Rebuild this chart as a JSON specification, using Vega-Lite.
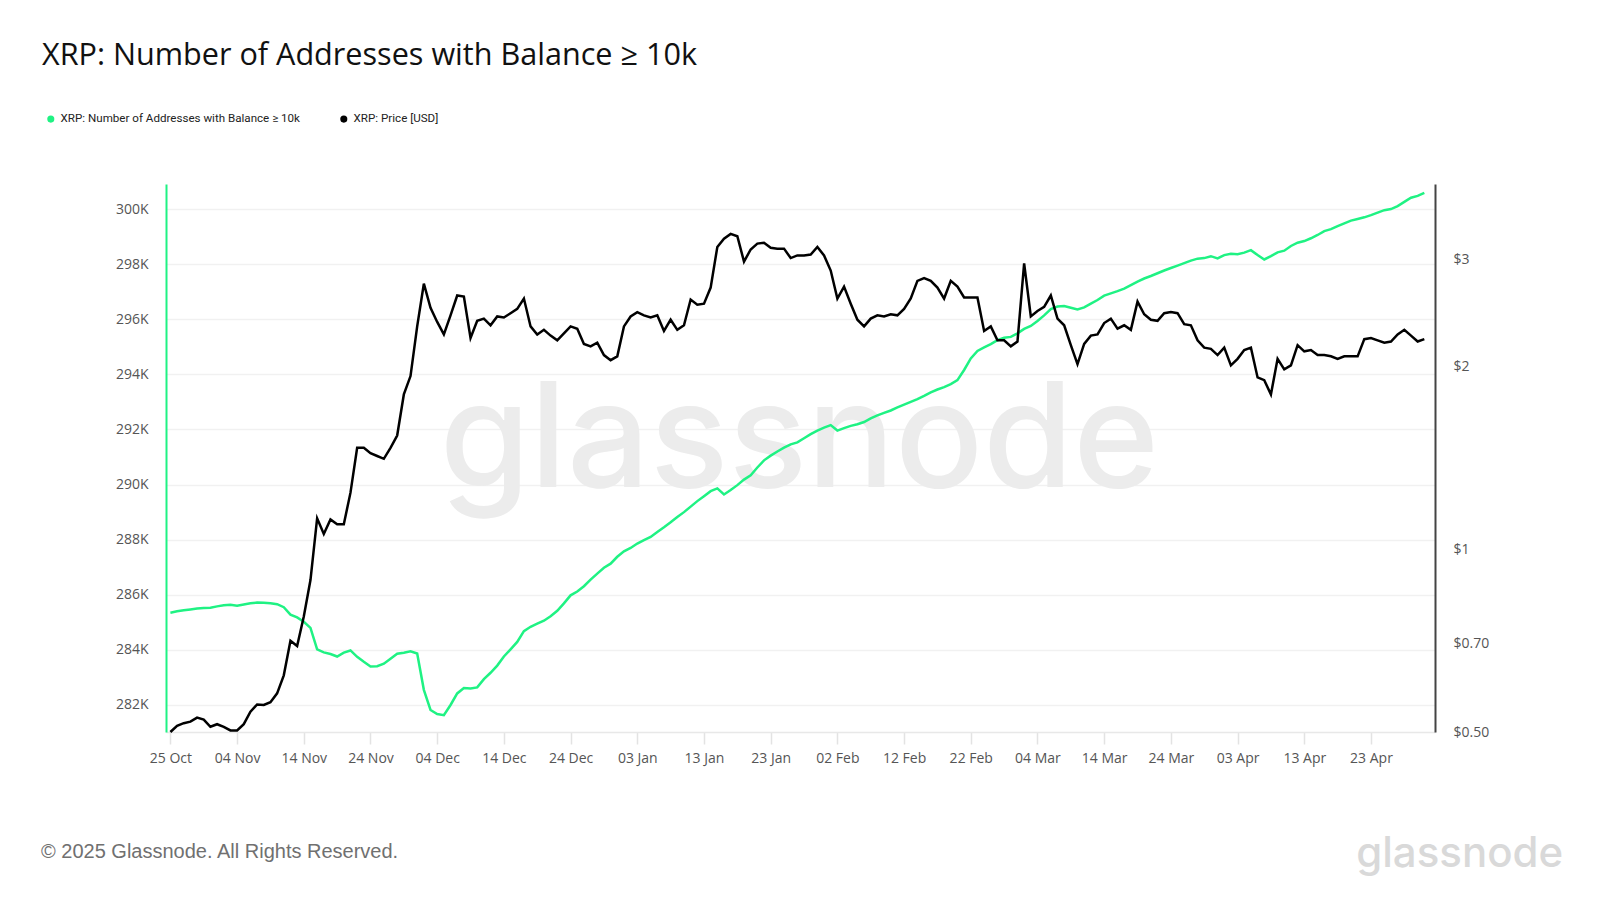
{
  "$schema": "https://vega.github.io/schema/vega-lite/v6.json",
  "width": 1269,
  "height": 548,
  "autosize": {"type": "none"},
  "padding": {"left": 166, "top": 184, "right": 165, "bottom": 168},
  "background": "white",
  "title": {
    "text": "XRP: Number of Addresses with Balance ≥ 10k",
    "anchor": "start",
    "frame": "group",
    "font": "Open Sans",
    "fontSize": 30.6,
    "fontWeight": 400,
    "color": "#111111",
    "baseline": "alphabetic",
    "dx": -124,
    "offset": 17
  },
  "config": {
    "view": {"stroke": null},
    "font": "Open Sans"
  },
  "datasets": {
    "xrp": [
      {"date": "2024-10-25", "addresses": 285350, "price": 0.500},
      {"date": "2024-10-26", "addresses": 285400, "price": 0.512},
      {"date": "2024-10-27", "addresses": 285440, "price": 0.517},
      {"date": "2024-10-28", "addresses": 285470, "price": 0.520},
      {"date": "2024-10-29", "addresses": 285500, "price": 0.528},
      {"date": "2024-10-30", "addresses": 285520, "price": 0.524},
      {"date": "2024-10-31", "addresses": 285530, "price": 0.510},
      {"date": "2024-11-01", "addresses": 285580, "price": 0.515},
      {"date": "2024-11-02", "addresses": 285620, "price": 0.510},
      {"date": "2024-11-03", "addresses": 285640, "price": 0.503},
      {"date": "2024-11-04", "addresses": 285600, "price": 0.503},
      {"date": "2024-11-05", "addresses": 285650, "price": 0.515},
      {"date": "2024-11-06", "addresses": 285690, "price": 0.540},
      {"date": "2024-11-07", "addresses": 285720, "price": 0.555},
      {"date": "2024-11-08", "addresses": 285710, "price": 0.554},
      {"date": "2024-11-09", "addresses": 285690, "price": 0.560},
      {"date": "2024-11-10", "addresses": 285660, "price": 0.579},
      {"date": "2024-11-11", "addresses": 285550, "price": 0.620},
      {"date": "2024-11-12", "addresses": 285280, "price": 0.707},
      {"date": "2024-11-13", "addresses": 285180, "price": 0.693},
      {"date": "2024-11-14", "addresses": 285020, "price": 0.775},
      {"date": "2024-11-15", "addresses": 284800, "price": 0.890},
      {"date": "2024-11-16", "addresses": 284020, "price": 1.125},
      {"date": "2024-11-17", "addresses": 283910, "price": 1.060},
      {"date": "2024-11-18", "addresses": 283850, "price": 1.120},
      {"date": "2024-11-19", "addresses": 283760, "price": 1.100},
      {"date": "2024-11-20", "addresses": 283900, "price": 1.100},
      {"date": "2024-11-21", "addresses": 283980, "price": 1.240},
      {"date": "2024-11-22", "addresses": 283750, "price": 1.470},
      {"date": "2024-11-23", "addresses": 283570, "price": 1.470},
      {"date": "2024-11-24", "addresses": 283400, "price": 1.440},
      {"date": "2024-11-25", "addresses": 283410, "price": 1.425},
      {"date": "2024-11-26", "addresses": 283500, "price": 1.410},
      {"date": "2024-11-27", "addresses": 283680, "price": 1.470},
      {"date": "2024-11-28", "addresses": 283860, "price": 1.540},
      {"date": "2024-11-29", "addresses": 283900, "price": 1.800},
      {"date": "2024-11-30", "addresses": 283950, "price": 1.930},
      {"date": "2024-12-01", "addresses": 283870, "price": 2.330},
      {"date": "2024-12-02", "addresses": 282550, "price": 2.740},
      {"date": "2024-12-03", "addresses": 281820, "price": 2.500},
      {"date": "2024-12-04", "addresses": 281670, "price": 2.370},
      {"date": "2024-12-05", "addresses": 281630, "price": 2.260},
      {"date": "2024-12-06", "addresses": 282000, "price": 2.430},
      {"date": "2024-12-07", "addresses": 282420, "price": 2.620},
      {"date": "2024-12-08", "addresses": 282620, "price": 2.610},
      {"date": "2024-12-09", "addresses": 282600, "price": 2.230},
      {"date": "2024-12-10", "addresses": 282640, "price": 2.380},
      {"date": "2024-12-11", "addresses": 282940, "price": 2.400},
      {"date": "2024-12-12", "addresses": 283170, "price": 2.340},
      {"date": "2024-12-13", "addresses": 283430, "price": 2.420},
      {"date": "2024-12-14", "addresses": 283760, "price": 2.410},
      {"date": "2024-12-15", "addresses": 284020, "price": 2.450},
      {"date": "2024-12-16", "addresses": 284290, "price": 2.490},
      {"date": "2024-12-17", "addresses": 284680, "price": 2.590},
      {"date": "2024-12-18", "addresses": 284840, "price": 2.330},
      {"date": "2024-12-19", "addresses": 284950, "price": 2.260},
      {"date": "2024-12-20", "addresses": 285060, "price": 2.300},
      {"date": "2024-12-21", "addresses": 285220, "price": 2.250},
      {"date": "2024-12-22", "addresses": 285420, "price": 2.210},
      {"date": "2024-12-23", "addresses": 285690, "price": 2.270},
      {"date": "2024-12-24", "addresses": 285980, "price": 2.330},
      {"date": "2024-12-25", "addresses": 286120, "price": 2.310},
      {"date": "2024-12-26", "addresses": 286310, "price": 2.180},
      {"date": "2024-12-27", "addresses": 286550, "price": 2.160},
      {"date": "2024-12-28", "addresses": 286770, "price": 2.190},
      {"date": "2024-12-29", "addresses": 286980, "price": 2.090},
      {"date": "2024-12-30", "addresses": 287130, "price": 2.050},
      {"date": "2024-12-31", "addresses": 287380, "price": 2.080},
      {"date": "2025-01-01", "addresses": 287580, "price": 2.330},
      {"date": "2025-01-02", "addresses": 287700, "price": 2.420},
      {"date": "2025-01-03", "addresses": 287860, "price": 2.460},
      {"date": "2025-01-04", "addresses": 287980, "price": 2.430},
      {"date": "2025-01-05", "addresses": 288100, "price": 2.410},
      {"date": "2025-01-06", "addresses": 288280, "price": 2.430},
      {"date": "2025-01-07", "addresses": 288450, "price": 2.290},
      {"date": "2025-01-08", "addresses": 288630, "price": 2.390},
      {"date": "2025-01-09", "addresses": 288820, "price": 2.300},
      {"date": "2025-01-10", "addresses": 289000, "price": 2.340},
      {"date": "2025-01-11", "addresses": 289200, "price": 2.580},
      {"date": "2025-01-12", "addresses": 289400, "price": 2.530},
      {"date": "2025-01-13", "addresses": 289580, "price": 2.540},
      {"date": "2025-01-14", "addresses": 289760, "price": 2.700},
      {"date": "2025-01-15", "addresses": 289860, "price": 3.150},
      {"date": "2025-01-16", "addresses": 289640, "price": 3.250},
      {"date": "2025-01-17", "addresses": 289800, "price": 3.310},
      {"date": "2025-01-18", "addresses": 289980, "price": 3.280},
      {"date": "2025-01-19", "addresses": 290180, "price": 2.980},
      {"date": "2025-01-20", "addresses": 290340, "price": 3.120},
      {"date": "2025-01-21", "addresses": 290620, "price": 3.190},
      {"date": "2025-01-22", "addresses": 290880, "price": 3.200},
      {"date": "2025-01-23", "addresses": 291050, "price": 3.140},
      {"date": "2025-01-24", "addresses": 291200, "price": 3.130},
      {"date": "2025-01-25", "addresses": 291340, "price": 3.130},
      {"date": "2025-01-26", "addresses": 291460, "price": 3.020},
      {"date": "2025-01-27", "addresses": 291530, "price": 3.050},
      {"date": "2025-01-28", "addresses": 291680, "price": 3.050},
      {"date": "2025-01-29", "addresses": 291830, "price": 3.060},
      {"date": "2025-01-30", "addresses": 291960, "price": 3.150},
      {"date": "2025-01-31", "addresses": 292070, "price": 3.050},
      {"date": "2025-02-01", "addresses": 292160, "price": 2.880},
      {"date": "2025-02-02", "addresses": 291960, "price": 2.590},
      {"date": "2025-02-03", "addresses": 292050, "price": 2.710},
      {"date": "2025-02-04", "addresses": 292130, "price": 2.540},
      {"date": "2025-02-05", "addresses": 292190, "price": 2.390},
      {"date": "2025-02-06", "addresses": 292270, "price": 2.330},
      {"date": "2025-02-07", "addresses": 292400, "price": 2.400},
      {"date": "2025-02-08", "addresses": 292510, "price": 2.430},
      {"date": "2025-02-09", "addresses": 292600, "price": 2.420},
      {"date": "2025-02-10", "addresses": 292690, "price": 2.440},
      {"date": "2025-02-11", "addresses": 292800, "price": 2.430},
      {"date": "2025-02-12", "addresses": 292900, "price": 2.490},
      {"date": "2025-02-13", "addresses": 293000, "price": 2.590},
      {"date": "2025-02-14", "addresses": 293100, "price": 2.770},
      {"date": "2025-02-15", "addresses": 293220, "price": 2.800},
      {"date": "2025-02-16", "addresses": 293350, "price": 2.770},
      {"date": "2025-02-17", "addresses": 293450, "price": 2.700},
      {"date": "2025-02-18", "addresses": 293540, "price": 2.590},
      {"date": "2025-02-19", "addresses": 293650, "price": 2.770},
      {"date": "2025-02-20", "addresses": 293790, "price": 2.710},
      {"date": "2025-02-21", "addresses": 294160, "price": 2.600},
      {"date": "2025-02-22", "addresses": 294580, "price": 2.600},
      {"date": "2025-02-23", "addresses": 294850, "price": 2.600},
      {"date": "2025-02-24", "addresses": 294980, "price": 2.290},
      {"date": "2025-02-25", "addresses": 295100, "price": 2.330},
      {"date": "2025-02-26", "addresses": 295240, "price": 2.210},
      {"date": "2025-02-27", "addresses": 295330, "price": 2.210},
      {"date": "2025-02-28", "addresses": 295360, "price": 2.160},
      {"date": "2025-03-01", "addresses": 295490, "price": 2.200},
      {"date": "2025-03-02", "addresses": 295650, "price": 2.960},
      {"date": "2025-03-03", "addresses": 295760, "price": 2.420},
      {"date": "2025-03-04", "addresses": 295940, "price": 2.470},
      {"date": "2025-03-05", "addresses": 296140, "price": 2.510},
      {"date": "2025-03-06", "addresses": 296370, "price": 2.620},
      {"date": "2025-03-07", "addresses": 296460, "price": 2.400},
      {"date": "2025-03-08", "addresses": 296480, "price": 2.340},
      {"date": "2025-03-09", "addresses": 296420, "price": 2.170},
      {"date": "2025-03-10", "addresses": 296360, "price": 2.020},
      {"date": "2025-03-11", "addresses": 296430, "price": 2.180},
      {"date": "2025-03-12", "addresses": 296570, "price": 2.250},
      {"date": "2025-03-13", "addresses": 296700, "price": 2.260},
      {"date": "2025-03-14", "addresses": 296860, "price": 2.360},
      {"date": "2025-03-15", "addresses": 296940, "price": 2.400},
      {"date": "2025-03-16", "addresses": 297020, "price": 2.310},
      {"date": "2025-03-17", "addresses": 297110, "price": 2.340},
      {"date": "2025-03-18", "addresses": 297240, "price": 2.300},
      {"date": "2025-03-19", "addresses": 297370, "price": 2.560},
      {"date": "2025-03-20", "addresses": 297480, "price": 2.440},
      {"date": "2025-03-21", "addresses": 297570, "price": 2.390},
      {"date": "2025-03-22", "addresses": 297670, "price": 2.380},
      {"date": "2025-03-23", "addresses": 297770, "price": 2.450},
      {"date": "2025-03-24", "addresses": 297860, "price": 2.460},
      {"date": "2025-03-25", "addresses": 297950, "price": 2.450},
      {"date": "2025-03-26", "addresses": 298040, "price": 2.350},
      {"date": "2025-03-27", "addresses": 298130, "price": 2.340},
      {"date": "2025-03-28", "addresses": 298200, "price": 2.210},
      {"date": "2025-03-29", "addresses": 298220, "price": 2.150},
      {"date": "2025-03-30", "addresses": 298290, "price": 2.140},
      {"date": "2025-03-31", "addresses": 298210, "price": 2.090},
      {"date": "2025-04-01", "addresses": 298330, "price": 2.150},
      {"date": "2025-04-02", "addresses": 298380, "price": 2.010},
      {"date": "2025-04-03", "addresses": 298360, "price": 2.060},
      {"date": "2025-04-04", "addresses": 298420, "price": 2.130},
      {"date": "2025-04-05", "addresses": 298510, "price": 2.150},
      {"date": "2025-04-06", "addresses": 298330, "price": 1.920},
      {"date": "2025-04-07", "addresses": 298170, "price": 1.900},
      {"date": "2025-04-08", "addresses": 298290, "price": 1.800},
      {"date": "2025-04-09", "addresses": 298430, "price": 2.060},
      {"date": "2025-04-10", "addresses": 298490, "price": 1.980},
      {"date": "2025-04-11", "addresses": 298660, "price": 2.010},
      {"date": "2025-04-12", "addresses": 298780, "price": 2.170},
      {"date": "2025-04-13", "addresses": 298840, "price": 2.120},
      {"date": "2025-04-14", "addresses": 298940, "price": 2.130},
      {"date": "2025-04-15", "addresses": 299060, "price": 2.090},
      {"date": "2025-04-16", "addresses": 299200, "price": 2.090},
      {"date": "2025-04-17", "addresses": 299270, "price": 2.080},
      {"date": "2025-04-18", "addresses": 299380, "price": 2.060},
      {"date": "2025-04-19", "addresses": 299480, "price": 2.080},
      {"date": "2025-04-20", "addresses": 299580, "price": 2.080},
      {"date": "2025-04-21", "addresses": 299640, "price": 2.080},
      {"date": "2025-04-22", "addresses": 299700, "price": 2.220},
      {"date": "2025-04-23", "addresses": 299780, "price": 2.230},
      {"date": "2025-04-24", "addresses": 299870, "price": 2.210},
      {"date": "2025-04-25", "addresses": 299960, "price": 2.190},
      {"date": "2025-04-26", "addresses": 300000, "price": 2.200},
      {"date": "2025-04-27", "addresses": 300110, "price": 2.260},
      {"date": "2025-04-28", "addresses": 300260, "price": 2.300},
      {"date": "2025-04-29", "addresses": 300410, "price": 2.250},
      {"date": "2025-04-30", "addresses": 300480, "price": 2.200},
      {"date": "2025-05-01", "addresses": 300590, "price": 2.220}
    ]
  },
  "layer": [
    {
      "data": {"values": [{"label": "glassnode"}]},
      "mark": {"type": "text", "font": "Inter", "fontSize": 146, "fontWeight": 500, "color": "#ececec", "align": "center", "baseline": "alphabetic"},
      "encoding": {
        "x": {"datum": 1737961920000, "type": "temporal", "scale": {"type": "utc", "domain": [1729757400000, 1746195840000]}},
        "y": {"datum": 289900, "type": "quantitative", "scale": {"domain": [281020, 300910], "nice": false, "zero": false}, "axis": null},
        "text": {"field": "label"}
      }
    },
    {
      "data": {"name": "xrp"},
      "mark": {"type": "line", "strokeWidth": 2.5, "interpolate": "linear"},
      "encoding": {
        "x": {
          "field": "date", "type": "temporal",
          "scale": {"type": "utc", "domain": [1729757400000, 1746195840000]},
          "axis": {
            "title": null,
            "values": [1729814400000, 1730678400000, 1731542400000, 1732406400000, 1733270400000, 1734134400000, 1734998400000, 1735862400000, 1736726400000, 1737590400000, 1738454400000, 1739318400000, 1740182400000, 1741046400000, 1741910400000, 1742774400000, 1743638400000, 1744502400000, 1745366400000],
            "labelExpr": "utcFormat(datum.value, '%d %b')",
            "grid": false,
            "domainColor": "#e8e8e8",
            "domainWidth": 1.5,
            "tickColor": "#e3e3e3",
            "tickSize": 12,
            "tickWidth": 1.5,
            "labelPadding": 7,
            "labelColor": "#555555",
            "labelFont": "Open Sans",
            "labelFontSize": 14,
            "labelFlush": false
          }
        },
        "y": {
          "field": "addresses", "type": "quantitative",
          "scale": {"domain": [281020, 300910], "nice": false, "zero": false},
          "axis": {
            "orient": "left",
            "title": null,
            "values": [282000, 284000, 286000, 288000, 290000, 292000, 294000, 296000, 298000, 300000],
            "labelExpr": "format(datum.value / 1000, 'd') + 'K'",
            "ticks": false,
            "domainColor": "#1ff283",
            "domainWidth": 2,
            "grid": true,
            "gridColor": "#f1f1f1",
            "gridWidth": 1.5,
            "labelPadding": 18,
            "labelColor": "#555555",
            "labelFont": "Open Sans",
            "labelFontSize": 14
          }
        },
        "color": {
          "datum": "XRP: Number of Addresses with Balance ≥ 10k",
          "type": "nominal",
          "scale": {"domain": ["XRP: Number of Addresses with Balance ≥ 10k", "XRP: Price [USD]"], "range": ["#1ff283", "#000000"]},
          "legend": {
            "title": null,
            "orient": "none",
            "direction": "horizontal",
            "legendX": -121,
            "legendY": -71,
            "symbolType": "circle",
            "symbolSize": 50,
            "symbolStrokeWidth": 0,
            "labelFont": "Roboto",
            "labelFontSize": 11.6,
            "labelColor": "#222222",
            "labelOffset": 4,
            "labelLimit": 400,
            "columnPadding": 38,
            "encode": {"symbols": {"update": {"fill": {"scale": "color", "field": "value"}, "strokeWidth": {"value": 0}}}}
          }
        }
      }
    },
    {
      "data": {"name": "xrp"},
      "mark": {"type": "line", "strokeWidth": 2.5, "interpolate": "linear"},
      "encoding": {
        "x": {"field": "date", "type": "temporal", "scale": {"type": "utc", "domain": [1729757400000, 1746195840000]}},
        "y": {
          "field": "price", "type": "quantitative",
          "scale": {"type": "log", "domain": [0.5, 4.0], "nice": false},
          "axis": {
            "orient": "right",
            "title": null,
            "values": [0.5, 0.7, 1, 2, 3],
            "labelExpr": "datum.value < 1 ? '$' + format(datum.value, '.2f') : '$' + format(datum.value, 'd')",
            "ticks": false,
            "grid": false,
            "domainColor": "#444444",
            "domainWidth": 2,
            "labelPadding": 18,
            "labelColor": "#555555",
            "labelFont": "Open Sans",
            "labelFontSize": 14
          }
        },
        "color": {"datum": "XRP: Price [USD]", "type": "nominal"}
      }
    },
    {
      "data": {"values": [{"label": "© 2025 Glassnode. All Rights Reserved."}]},
      "mark": {"type": "text", "font": "Liberation Sans", "fontSize": 20, "color": "#707070", "align": "left", "baseline": "middle"},
      "encoding": {
        "x": {"datum": 1728138240000, "type": "temporal", "scale": {"type": "utc", "domain": [1729757400000, 1746195840000]}},
        "y": {"datum": 276660, "type": "quantitative", "scale": {"domain": [281020, 300910], "nice": false, "zero": false}, "axis": null},
        "text": {"field": "label"}
      }
    },
    {
      "data": {"values": [{"label": "glassnode"}]},
      "mark": {"type": "text", "font": "Inter", "fontSize": 42, "fontWeight": 500, "color": "#d9d9d9", "align": "center", "baseline": "alphabetic"},
      "encoding": {
        "x": {"datum": 1746515520000, "type": "temporal", "scale": {"type": "utc", "domain": [1729757400000, 1746195840000]}},
        "y": {"datum": 276120, "type": "quantitative", "scale": {"domain": [281020, 300910], "nice": false, "zero": false}, "axis": null},
        "text": {"field": "label"}
      }
    }
  ],
  "resolve": {"scale": {"y": "independent"}}
}
